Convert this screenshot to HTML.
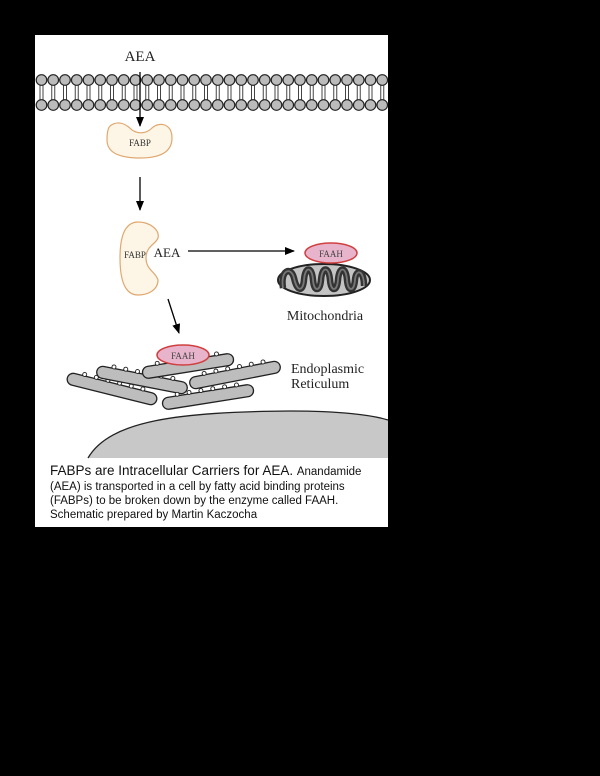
<!DOCTYPE html>
<html><head><meta charset="utf-8"><style>
html,body{margin:0;padding:0;background:#000;width:600px;height:776px;overflow:hidden}
svg{display:block}
</style></head><body>
<svg width="600" height="776" viewBox="0 0 600 776" xmlns="http://www.w3.org/2000/svg">
<defs>
<marker id="ah" markerWidth="10" markerHeight="8" refX="9" refY="4" orient="auto" markerUnits="userSpaceOnUse">
<path d="M0,0 L10,4 L0,8 Z" fill="#000"/></marker>
<g id="cist">
<rect x="-46" y="-6" width="92" height="12" rx="6" fill="#bdbdbd" stroke="#222" stroke-width="1.3"/>
<circle cx="-30" cy="-7.5" r="2" fill="#fff" stroke="#222" stroke-width="0.9"/>
<circle cx="-18" cy="-7.5" r="2" fill="#fff" stroke="#222" stroke-width="0.9"/>
<circle cx="-6" cy="-7.5" r="2" fill="#fff" stroke="#222" stroke-width="0.9"/>
<circle cx="6" cy="-7.5" r="2" fill="#fff" stroke="#222" stroke-width="0.9"/>
<circle cx="18" cy="-7.5" r="2" fill="#fff" stroke="#222" stroke-width="0.9"/>
<circle cx="30" cy="-7.5" r="2" fill="#fff" stroke="#222" stroke-width="0.9"/>
</g>
</defs>
<rect x="35" y="35" width="353" height="492" fill="#fff"/>
<g stroke="#222" stroke-width="1.2" fill="#bbb" id="lip"></g>
<script>
(function(){
var ns="http://www.w3.org/2000/svg",g=document.getElementById('lip');
for(var i=0;i<30;i++){var x=41.5+i*11.75;
 [x-1.5,x+1.5].forEach(function(lx){var l=document.createElementNS(ns,'line');l.setAttribute('x1',lx);l.setAttribute('x2',lx);l.setAttribute('y1',85);l.setAttribute('y2',100);l.setAttribute('stroke','#444');l.setAttribute('stroke-width','1');g.appendChild(l);});
 [80,105].forEach(function(cy){var c=document.createElementNS(ns,'circle');c.setAttribute('cx',x);c.setAttribute('cy',cy);c.setAttribute('r',5.3);g.appendChild(c);});
}})();
</script>
<text x="140" y="61" font-family="Liberation Serif, serif" font-size="15" text-anchor="middle" fill="#222">AEA</text>
<line x1="140" y1="72" x2="140" y2="126" stroke="#000" stroke-width="1.3" marker-end="url(#ah)"/>
<path d="M110,126 C118,120 126,124 132,130 C138,134 146,134 152,128 C160,121 172,124 172,138 C172,152 160,158 140,158 C118,158 107,152 107,140 C107,132 108,128 110,126 Z" fill="#fdf6e6" stroke="#e0a870" stroke-width="1.2"/>
<text x="140" y="146" font-family="Liberation Serif, serif" font-size="9" text-anchor="middle" fill="#333">FABP</text>
<line x1="140" y1="177" x2="140" y2="210" stroke="#000" stroke-width="1.3" marker-end="url(#ah)"/>
<path d="M138,222 C150,222 160,230 158,238 C156,244 146,246 146,258 C146,270 156,272 158,280 C158,290 148,295 138,295 C124,295 120,278 120,258 C120,238 124,222 138,222 Z" fill="#fdf6e6" stroke="#e0a870" stroke-width="1.2"/>
<text x="135" y="258" font-family="Liberation Serif, serif" font-size="9" text-anchor="middle" fill="#333">FABP</text>
<text x="167" y="257" font-family="Liberation Serif, serif" font-size="13" text-anchor="middle" fill="#222">AEA</text>
<line x1="188" y1="251" x2="294" y2="251" stroke="#000" stroke-width="1.3" marker-end="url(#ah)"/>
<ellipse cx="324" cy="280" rx="46" ry="16" fill="#c4c4c4" stroke="#222" stroke-width="2"/>
<path d="M283,288 C280,270 291,266 294,278 C297,292 303,292 304,280 C305,266 312,266 313,280 C314,292 320,292 321,280 C322,266 329,266 330,280 C331,292 337,292 338,280 C339,266 346,266 347,280 C348,292 354,292 355,280 C356,268 364,270 364,286" fill="none" stroke="#333" stroke-width="6.5"/>
<path d="M283,288 C280,270 291,266 294,278 C297,292 303,292 304,280 C305,266 312,266 313,280 C314,292 320,292 321,280 C322,266 329,266 330,280 C331,292 337,292 338,280 C339,266 346,266 347,280 C348,292 354,292 355,280 C356,268 364,270 364,286" fill="none" stroke="#777" stroke-width="1.8"/>
<ellipse cx="331" cy="253" rx="26" ry="10" fill="#e8b4cc" stroke="#d04040" stroke-width="1.5"/>
<text x="331" y="257" font-family="Liberation Serif, serif" font-size="9" text-anchor="middle" fill="#444">FAAH</text>
<text x="325" y="320" font-family="Liberation Serif, serif" font-size="14" text-anchor="middle" fill="#222">Mitochondria</text>
<line x1="168" y1="299" x2="179" y2="333" stroke="#000" stroke-width="1.3" marker-end="url(#ah)"/>
<use href="#cist" transform="translate(112,389) rotate(14)"/>
<use href="#cist" transform="translate(142,380) rotate(11)"/>
<use href="#cist" transform="translate(208,397) rotate(-9)"/>
<use href="#cist" transform="translate(235,375) rotate(-11)"/>
<use href="#cist" transform="translate(188,366) rotate(-9)"/>
<ellipse cx="183" cy="355" rx="26" ry="10" fill="#e8b4cc" stroke="#d04040" stroke-width="1.5"/>
<text x="183" y="359" font-family="Liberation Serif, serif" font-size="9" text-anchor="middle" fill="#444">FAAH</text>
<text x="291" y="373" font-family="Liberation Serif, serif" font-size="14" fill="#222">Endoplasmic</text>
<text x="291" y="388" font-family="Liberation Serif, serif" font-size="14" fill="#222">Reticulum</text>
<path d="M88,458 C110,420 180,412 290,411 C340,411 372,415 388,420 L388,458 Z" fill="#c8c8c8"/>
<path d="M88,458 C110,420 180,412 290,411 C340,411 372,415 388,420" fill="none" stroke="#222" stroke-width="1.3"/>
<text x="50" y="475" font-family="Liberation Sans, sans-serif" font-size="13.5" fill="#111">FABPs are Intracellular Carriers for AEA. <tspan font-size="11.5">Anandamide</tspan></text>
<text x="50" y="490" font-family="Liberation Sans, sans-serif" font-size="11.5" fill="#111">(AEA) is transported in a cell by fatty acid binding proteins</text>
<text x="50" y="504" font-family="Liberation Sans, sans-serif" font-size="11.5" fill="#111">(FABPs) to be broken down by the enzyme called FAAH.</text>
<text x="50" y="518" font-family="Liberation Sans, sans-serif" font-size="11.5" fill="#111">Schematic prepared by Martin Kaczocha</text>
</svg>
</body></html>
